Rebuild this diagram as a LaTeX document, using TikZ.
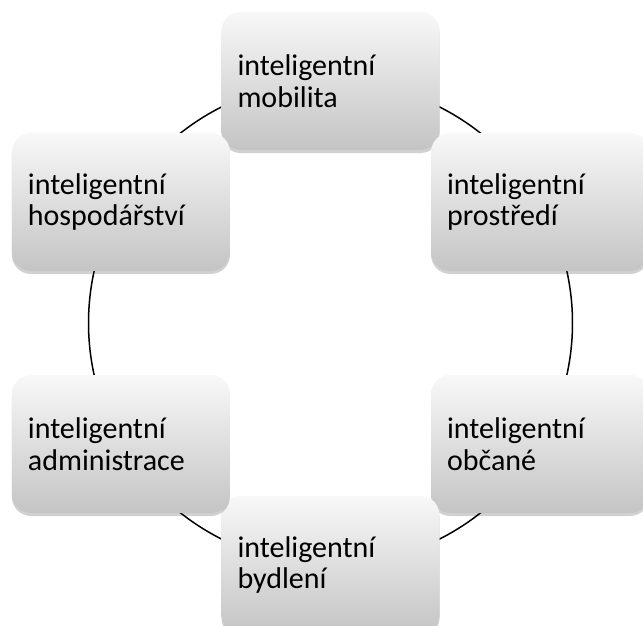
\documentclass[tikz,border=0pt]{standalone}
\usepackage{fontspec}
\setmainfont{Carlito}
\usetikzlibrary{shadows,backgrounds,calc}
\definecolor{boxtop}{HTML}{F8F8F8}
\definecolor{boxbot}{HTML}{C4C4C4}
\tikzset{
  cyclebox/.style={
    rounded corners=19pt,
    minimum width=218pt, minimum height=138pt,
    text width=186pt, inner xsep=16pt, align=left,
    top color=boxtop, bottom color=boxbot,
    font=\fontsize{30}{31.5}\selectfont,
    drop shadow={shadow xshift=0pt, shadow yshift=-3pt, opacity=0.18, fill=black}
  },
  cyclearc/.style={line width=1.5pt, black}
}
\begin{document}
\begin{tikzpicture}[x=1pt,y=1pt]
\useasboundingbox (0,0) rectangle (643,-626);
\coordinate (ctr) at (330.5,-323);
\node[cyclebox] (mob)  at ($(ctr)+(90:242)$)  {inteligentní\\mobilita};
\node[cyclebox] (pros) at ($(ctr)+(30:242)$)  {inteligentní\\prostředí};
\node[cyclebox] (obc)  at ($(ctr)+(-30:242)$) {inteligentní\\občané};
\node[cyclebox] (byd)  at ($(ctr)+(-90:242)$) {inteligentní\\bydlení};
\node[cyclebox] (adm)  at ($(ctr)+(210:242)$) {inteligentní\\administrace};
\node[cyclebox] (hosp) at ($(ctr)+(150:242)$) {inteligentní\\hospodářství};
\begin{scope}[on background layer]
\draw[cyclearc] (mob.center)  arc[start angle=90,  end angle=150, radius=242];
\draw[cyclearc] (hosp.center) arc[start angle=150, end angle=210, radius=242];
\draw[cyclearc] (adm.center)  arc[start angle=210, end angle=270, radius=242];
\draw[cyclearc] (byd.center)  arc[start angle=270, end angle=330, radius=242];
\draw[cyclearc] (obc.center)  arc[start angle=-30, end angle=30,  radius=242];
\draw[cyclearc] (pros.center) arc[start angle=30,  end angle=90,  radius=242];
\end{scope}
\end{tikzpicture}
\end{document}
